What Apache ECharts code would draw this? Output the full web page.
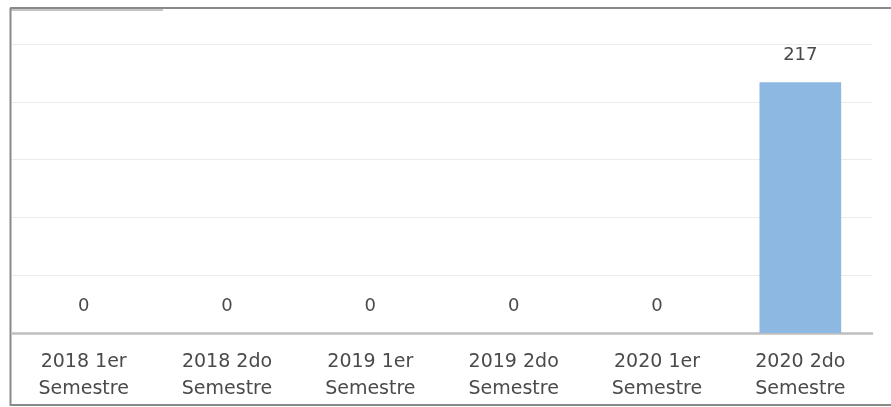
<!DOCTYPE html>
<html>
<head>
<meta charset="UTF-8">
<title>Semestres</title>
<script type="text/javascript" src="https://cdn.jsdelivr.net/npm/echarts@6/dist/echarts.min.js"></script>
<style>
    *{margin:0;padding:0}
    html,body{width:100%;height:100%;background:#fff;}
    #main{width:891px;height:407px;}
</style>
</head>
<body>
<div id="main"></div>
<script type="text/javascript">
    // categorías y valores
    var categories = ['2018 1er\nSemestre', '2018 2do\nSemestre', '2019 1er\nSemestre',
                      '2019 2do\nSemestre', '2020 1er\nSemestre', '2020 2do\nSemestre'];
    var values = [0, 0, 0, 0, 0, 217];
    var yTicks = [0, 50, 100, 150, 200, 250];

    var textColor = '#4a4a4a';
    var fontName = 'DejaVu Sans';

    var option = {
        animation: false,
        backgroundColor: '#ffffff',
        grid: {left: 12, right: 19, top: 44, bottom: 74},
        xAxis: {
            type: 'category',
            data: categories,
            axisLine: {lineStyle: {color: '#bfbfbf', width: 2.5}},
            axisTick: {show: false},
            axisLabel: {
                color: textColor,
                fontFamily: fontName,
                fontSize: 19,
                lineHeight: 27,
                margin: 16,
                interval: 0
            }
        },
        yAxis: {
            type: 'value',
            min: yTicks[0],
            max: yTicks[yTicks.length - 1],
            interval: yTicks[1] - yTicks[0],
            axisLabel: {show: false},
            axisLine: {show: false},
            axisTick: {show: false},
            splitLine: {lineStyle: {color: '#ebebeb', width: 1}}
        },
        series: [{
            type: 'bar',
            data: values,
            barWidth: '57%',
            itemStyle: {color: '#8DB8E2'},
            label: {
                show: true,
                position: 'top',
                distance: 18,
                color: textColor,
                fontFamily: fontName,
                fontSize: 18
            }
        }],
        graphic: [
            // marco
            {type: 'line', shape: {x1: 10, y1: 8, x2: 891, y2: 8}, style: {stroke: '#8a8a8a', lineWidth: 2}},
            {type: 'line', shape: {x1: 10, y1: 10, x2: 163, y2: 10}, style: {stroke: '#b0b0b0', lineWidth: 1.5}},
            {type: 'line', shape: {x1: 10.5, y1: 8, x2: 10.5, y2: 406}, style: {stroke: '#8a8a8a', lineWidth: 2}},
            {type: 'line', shape: {x1: 10, y1: 405, x2: 891, y2: 405}, style: {stroke: '#8a8a8a', lineWidth: 2}}
        ]
    };

    var myChart = echarts.init(document.getElementById('main'));
    myChart.setOption(option);
</script>
</body>
</html>
